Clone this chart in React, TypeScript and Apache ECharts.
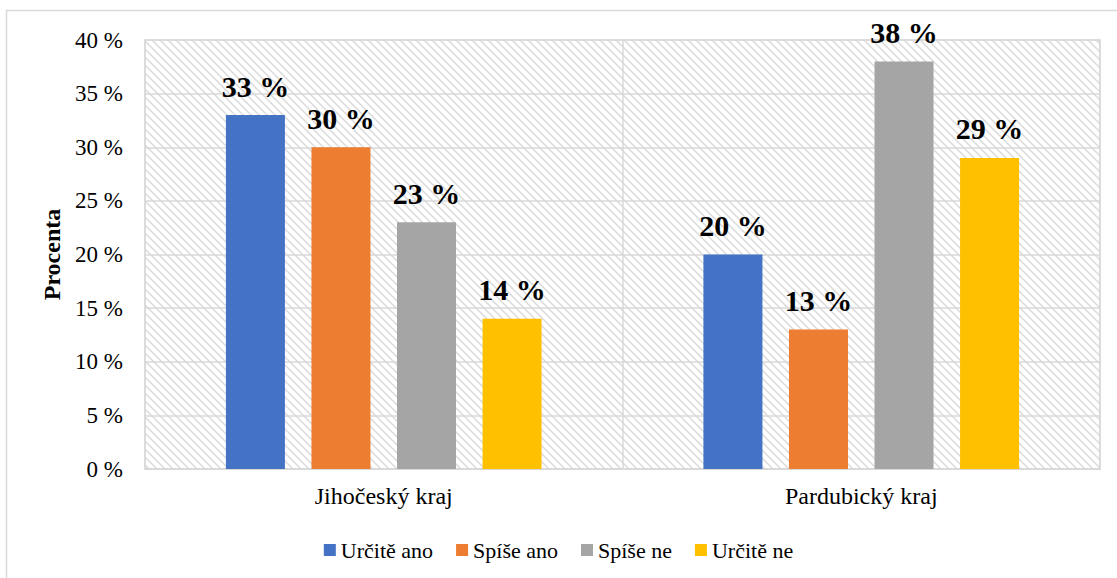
import React, { useEffect, useRef } from "react";
import * as echarts from "echarts";

const categories = ["Jihočeský kraj", "Pardubický kraj"];
const seriesNames = ["Určitě ano", "Spíše ano", "Spíše ne", "Určitě ne"];
const seriesValues = [
  [33, 20],
  [30, 13],
  [23, 38],
  [14, 29],
];
const seriesColors = ["#4472C4", "#ED7D31", "#A5A5A5", "#FFC000"];
const yTicks = { min: 0, max: 40, interval: 5 };

const FONT = "Liberation Serif, serif";

function makeHatch(): HTMLCanvasElement {
  const c = document.createElement("canvas");
  const s = 8;
  c.width = s;
  c.height = s;
  const ctx = c.getContext("2d")!;
  ctx.fillStyle = "#ffffff";
  ctx.fillRect(0, 0, s, s);
  ctx.strokeStyle = "#dadada";
  ctx.lineWidth = 1.5;
  ctx.beginPath();
  ctx.moveTo(0, 0);
  ctx.lineTo(s, s);
  ctx.moveTo(-s, 0);
  ctx.lineTo(s, 2 * s);
  ctx.moveTo(0, -s);
  ctx.lineTo(2 * s, s);
  ctx.stroke();
  return c;
}

export default function App() {
  const ref = useRef<HTMLDivElement>(null);
  useEffect(() => {
    document.body.style.margin = "0";
    const chart = echarts.init(ref.current!, null, { renderer: "svg" });
    const gl = 145, gt = 40, gw = 955, gh = 429;
    const hatch = makeHatch();
    chart.setOption({
      animation: false,
      backgroundColor: "#ffffff",
      textStyle: { fontFamily: FONT },
      graphic: [
        {
          type: "rect",
          z: -10,
          shape: { x: 6.5, y: 10.5, width: 1300, height: 800 },
          style: { fill: "#ffffff", stroke: "#d9d9d9", lineWidth: 1.5 },
          silent: true,
        },
        {
          type: "rect",
          z: -5,
          shape: { x: gl, y: gt, width: gw, height: gh },
          style: {
            fill: { image: hatch, repeat: "repeat", imageWidth: 8, imageHeight: 8 } as any,
          },
          silent: true,
        },
      ],
      grid: { left: gl, top: gt, width: gw, height: gh, show: true, borderColor: "#d9d9d9", borderWidth: 1.5, backgroundColor: "transparent" },
      legend: {
        top: 534,
        left: "center",
        itemWidth: 12,
        itemHeight: 12,
        itemGap: 23,
        icon: "rect",
        textStyle: { fontFamily: FONT, fontSize: 22, color: "#000" },
        data: seriesNames,
      },
      xAxis: {
        type: "category",
        data: categories,
        axisLine: { show: true, lineStyle: { color: "#d9d9d9", width: 1.5 } },
        axisTick: { show: false },
        splitLine: { show: true, lineStyle: { color: "#d9d9d9", width: 1.5 } },
        axisLabel: { fontFamily: FONT, fontSize: 24, color: "#000", margin: 15 },
      },
      yAxis: {
        type: "value",
        min: yTicks.min,
        max: yTicks.max,
        interval: yTicks.interval,
        name: "Procenta",
        nameLocation: "middle",
        nameGap: 80,
        nameTextStyle: { fontFamily: FONT, fontSize: 24, fontWeight: "bold", color: "#000" },
        axisLine: { show: false },
        axisTick: { show: false },
        splitLine: { show: true, lineStyle: { color: "#d9d9d9", width: 1.5 } },
        axisLabel: { fontFamily: FONT, fontSize: 23, color: "#000", margin: 22, formatter: "{value} %" },
      },
      series: seriesNames.map((name, i) => ({
        name,
        type: "bar",
        data: seriesValues[i],
        barWidth: 59,
        barGap: "45%",
        itemStyle: { color: seriesColors[i] },
        label: {
          show: true,
          position: "top",
          distance: 14,
          formatter: "{c} %",
          fontFamily: FONT,
          fontSize: 30,
          fontWeight: "bold",
          color: "#000",
        },
      })),
    });
    return () => chart.dispose();
  }, []);
  return <div ref={ref} style={{ width: 1117, height: 578 }} />;
}
